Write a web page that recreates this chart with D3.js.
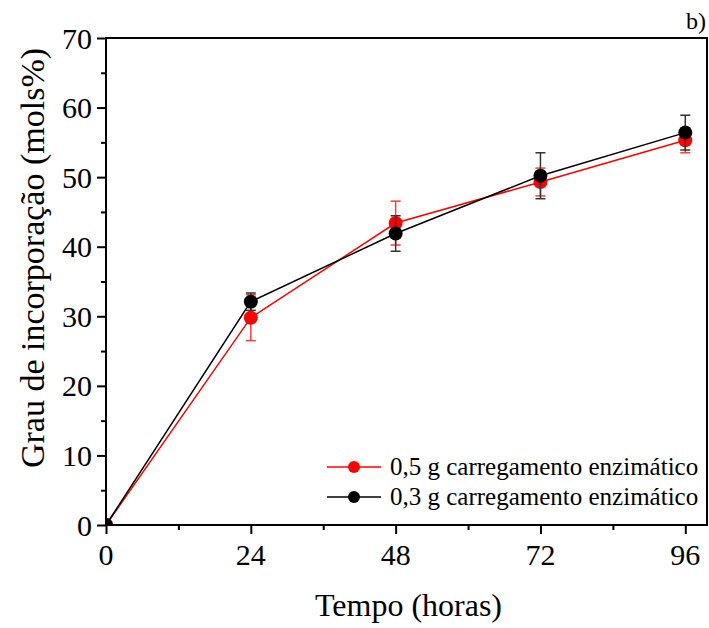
<!DOCTYPE html>
<html>
<head>
<meta charset="utf-8">
<script src="https://cdn.jsdelivr.net/npm/d3@7"></script>
<style>
  html, body { margin: 0; padding: 0; background: #fff; }
  svg { display: block; }
</style>
</head>
<body>
<svg id="chart" width="709" height="628"></svg>
<script>
// Incorporation degree over time for two enzyme loadings
const hours = [0, 24, 48, 72, 96];
const load05 = [0, 29.8, 43.4, 49.3, 55.3];
const load05Err = [0, 3.3, 3.15, 2.0, 1.8];
const load03 = [0, 32.1, 41.9, 50.2, 56.4];
const load03Err = [0, 1.25, 2.55, 3.3, 2.5];
const xTicks = [0, 24, 48, 72, 96];
const xMinor = [12, 36, 60, 84];
const yTicks = [0, 10, 20, 30, 40, 50, 60, 70];
const yMinor = [5, 15, 25, 35, 45, 55, 65];
const seriesNames = ["0,5 g carregamento enzimático", "0,3 g carregamento enzimático"];

const FONT = "Liberation Serif";
const svg = d3.select("#chart");
const mLeft = 106, mRight = 707, mTop = 38, mBottom = 525;

const x = d3.scaleLinear().domain([0, 99.6]).range([mLeft, mRight]);
const y = d3.scaleLinear().domain([0, 70]).range([mBottom, mTop]);

svg.append("defs").append("clipPath").attr("id", "plotClip")
  .append("rect").attr("x", mLeft).attr("y", mTop)
  .attr("width", mRight - mLeft).attr("height", mBottom - mTop);

// Tick marks (outward); labels are placed as top-level text below
svg.append("g").attr("transform", `translate(0,${mBottom})`)
  .call(d3.axisBottom(x).tickValues(xTicks).tickSize(9).tickFormat(""));
svg.append("g").attr("transform", `translate(0,${mBottom})`)
  .call(d3.axisBottom(x).tickValues(xMinor).tickSize(5).tickFormat(""));
svg.append("g").attr("transform", `translate(${mLeft},0)`)
  .call(d3.axisLeft(y).tickValues(yTicks).tickSize(9).tickFormat(""));
svg.append("g").attr("transform", `translate(${mLeft},0)`)
  .call(d3.axisLeft(y).tickValues(yMinor).tickSize(5).tickFormat(""));
svg.selectAll(".domain").remove();
svg.selectAll(".tick line").attr("stroke", "#000").attr("stroke-width", 2);
svg.selectAll(".tick text").remove();

const fmt = d3.format("d");
xTicks.forEach(t => {
  svg.append("text").attr("x", x(t)).attr("y", mBottom + 40)
    .attr("text-anchor", "middle").attr("font-family", FONT).attr("font-size", 30)
    .attr("fill", "#000").text(fmt(t));
});
yTicks.forEach(t => {
  svg.append("text").attr("x", mLeft - 14).attr("y", y(t) + 10.5)
    .attr("text-anchor", "end").attr("font-family", FONT).attr("font-size", 30)
    .attr("fill", "#000").text(fmt(t));
});

// Frame
svg.append("rect").attr("x", mLeft).attr("y", mTop)
  .attr("width", mRight - mLeft).attr("height", mBottom - mTop)
  .attr("fill", "none").attr("stroke", "#000").attr("stroke-width", 2);

const series = [
  { vals: load05, err: load05Err, color: "#ff0000", barColor: "#ff3b3b" },
  { vals: load03, err: load03Err, color: "#000000", barColor: "#333333" }
];

const plot = svg.append("g").attr("clip-path", "url(#plotClip)");
const line = d3.line().x((d, i) => x(hours[i])).y(d => y(d));

series.forEach(s => {
  const g = plot.append("g");
  g.append("path").datum(s.vals).attr("d", line)
    .attr("fill", "none").attr("stroke", s.color).attr("stroke-width", 1.5);
  const bars = g.selectAll(".eb").data(s.vals.map((v, i) => ({ v, e: s.err[i], h: hours[i] })).filter(d => d.e > 0))
    .enter().append("g");
  bars.append("line").attr("x1", d => x(d.h)).attr("x2", d => x(d.h))
    .attr("y1", d => y(d.v - d.e)).attr("y2", d => y(d.v + d.e))
    .attr("stroke", s.barColor).attr("stroke-width", 1.5);
  [-1, 1].forEach(sg => {
    bars.append("line").attr("x1", d => x(d.h) - 5).attr("x2", d => x(d.h) + 5)
      .attr("y1", d => y(d.v + sg * d.e)).attr("y2", d => y(d.v + sg * d.e))
      .attr("stroke", s.barColor).attr("stroke-width", 1.5);
  });
  g.selectAll("circle").data(s.vals).enter().append("circle")
    .attr("cx", (d, i) => x(hours[i])).attr("cy", d => y(d)).attr("r", 7)
    .attr("fill", s.color);
});

// Legend
series.forEach((s, i) => {
  const ly = 467 + i * 30;
  svg.append("line").attr("x1", 327).attr("x2", 381).attr("y1", ly).attr("y2", ly)
    .attr("stroke", s.color).attr("stroke-width", 1.5);
  svg.append("circle").attr("cx", 354).attr("cy", ly).attr("r", 6).attr("fill", s.color);
  svg.append("text").attr("x", 390).attr("y", ly + 8)
    .attr("font-family", FONT).attr("font-size", 25).attr("fill", "#000").text(seriesNames[i]);
});

// Axis titles
svg.append("text").attr("x", (mLeft + mRight) / 2 + 2).attr("y", 616)
  .attr("text-anchor", "middle").attr("font-family", FONT).attr("font-size", 32)
  .attr("fill", "#000").text("Tempo (horas)");
svg.append("text").attr("transform", "translate(44,258) rotate(-90)")
  .attr("text-anchor", "middle").attr("font-family", FONT).attr("font-size", 34)
  .attr("fill", "#000").text("Grau de incorporação (mols%)");

// Panel label
svg.append("text").attr("x", 706).attr("y", 29).attr("text-anchor", "end")
  .attr("font-family", FONT).attr("font-size", 24).attr("fill", "#000").text("b)");
</script>
</body>
</html>
